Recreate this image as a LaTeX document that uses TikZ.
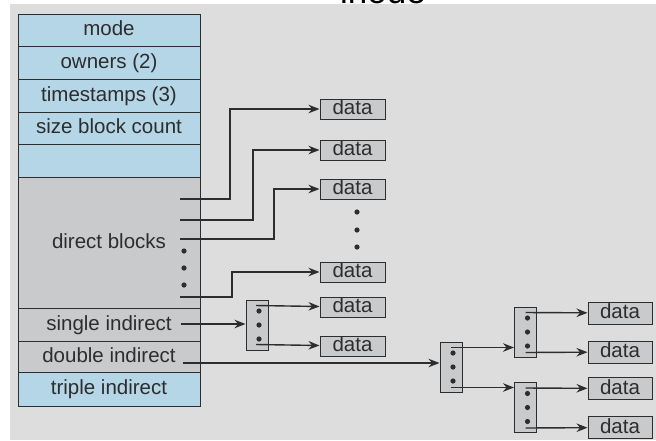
\documentclass[tikz,border=0pt]{standalone}
\usepackage{fontspec}
\setmainfont{Liberation Sans}
\usetikzlibrary{positioning,arrows.meta,calc}
\definecolor{bg}{RGB}{221,221,221}
\definecolor{rowblue}{RGB}{180,214,230}
\definecolor{rowgray}{RGB}{200,202,204}
\definecolor{ink}{RGB}{45,45,45}

\begin{document}
\begin{tikzpicture}[x=1pt, y=-1pt, font=\fontsize{20.5}{24}\selectfont,
  row/.style={draw=ink, line width=1pt, text=ink, minimum width=182pt,
              inner sep=0pt, outer sep=0pt, text height=15pt, text depth=4pt},
  inforow/.style={row, fill=rowblue},
  ptrrow/.style={row, fill=rowgray},
  datab/.style={draw=ink, line width=1pt, fill=rowgray, text=ink, inner sep=0pt,
                minimum width=65pt, minimum height=20pt, text height=15pt, text depth=4pt},
  idx/.style={draw=ink, line width=1pt, fill=rowgray, inner sep=0pt,
              minimum width=22pt, minimum height=50pt},
  arr/.style={draw=ink, line width=1.4pt, -{Stealth[length=11pt,width=8.5pt]}}]
\useasboundingbox (0,0) rectangle (656,440);
\clip (0,0) rectangle (656,440);
\fill[white] (0,0) rectangle (656,440);
\fill[bg] (10,4) rectangle (656,440);
\node[font=\fontsize{35}{40}\selectfont, anchor=base] (title) at (383,3) {inode};

\node[inforow, minimum height=32pt, anchor=north west] (mode) at (18,14) {mode};
\node[inforow, minimum height=33pt, below=0pt of mode] (owners) {owners (2)};
\node[inforow, minimum height=33pt, below=0pt of owners] (stamps) {timestamps (3)};
\node[inforow, minimum height=32pt, below=0pt of stamps] (size) {size block count};
\node[inforow, minimum height=33pt, below=0pt of size] (spare) {};
\node[ptrrow, minimum height=131pt, below=0pt of spare] (direct) {direct blocks};
\node[ptrrow, minimum height=33pt, below=0pt of direct] (single) {single indirect};
\node[ptrrow, minimum height=31pt, below=0pt of single] (double) {double indirect};
\node[inforow, minimum height=34pt, below=0pt of double] (triple) {triple indirect};

\coordinate (p1) at (180,199);
\coordinate (p2) at (180,220);
\coordinate (p3) at (180,239);
\coordinate (p4) at (180,297);
\coordinate (s0) at (181,324);
\coordinate (t0) at (183,363);
\foreach \y in {251,268,285} \fill[ink] (184,\y) circle (2.6pt);

\node[datab] (d1) at (352.5,109) {data};
\node[datab, below=20pt of d1] (d2) {data};
\node[datab, below=18pt of d2] (d3) {data};
\node[datab] (d4) at (352.5,272) {data};
\node[datab, below=14pt of d4] (d5) {data};
\node[datab, below=18pt of d5] (d6) {data};
\foreach \y in {212,230,247} \fill[ink] (357,\y) circle (2.6pt);

\node[idx] (ib1) at (257,325) {};
\node[idx] (ib2) at (451,367) {};
\node[idx] (ib3) at (525.5,332) {};
\node[idx] (ib4) at (525.5,407.5) {};
\foreach \b in {ib1,ib2,ib3,ib4}
  \foreach \k in {-14,0,14} \fill[ink] ($(\b)+(2,\k)$) circle (2.6pt);

\node[datab, minimum width=64pt, minimum height=22pt] (r1) at (620,313) {data};
\node[datab, minimum width=64pt, minimum height=22pt] (r2) at (620,352) {data};
\node[datab, minimum width=64pt, minimum height=22pt] (r3) at (620,388.5) {data};
\node[datab, minimum width=64pt, minimum height=22pt] (r4) at (620,427.5) {data};

\draw[arr] (p1) -- ++(50,0) |- (d1);
\draw[arr] (p2) -- ++(73,0) |- (d2);
\draw[arr] (p3) -- ++(94,0) |- (d3);
\draw[arr] (p4) -- ++(52,0) |- (d4);
\draw[arr] (s0) -- (s0 -| ib1.west);
\draw[arr] ($(ib1.north)+(-1,6)$) -- (d5);
\draw[arr] ($(ib1.south)+(-1,-6)$) -- (d6);
\draw[arr] (t0) -- (t0 -| ib2.west);
\draw[arr] ($(ib2.north)+(0,6)$) coordinate (u1) -- (u1 -| ib3.west);
\draw[arr] ($(ib2.south)+(0,-5)$) coordinate (u2) -- (u2 -| ib4.west);
\draw[arr] ($(ib3.north)+(0,6)$) -- (r1);
\draw[arr] ($(ib3.south)+(0,-5)$) -- (r2);
\draw[arr] ($(ib4.north)+(0,6)$) -- (r3);
\draw[arr] ($(ib4.south)+(0,-5)$) -- (r4);
\end{tikzpicture}
\end{document}
